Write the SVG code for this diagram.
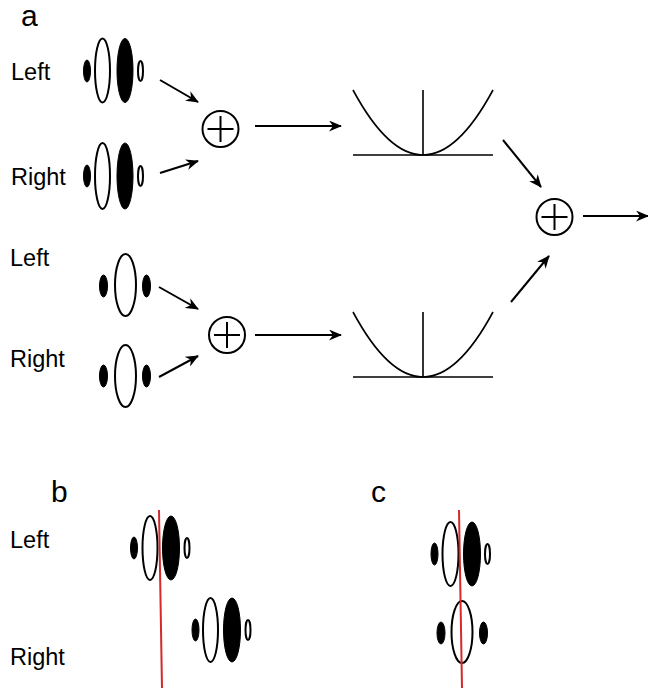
<svg xmlns="http://www.w3.org/2000/svg" width="648" height="688" viewBox="0 0 648 688">
<defs>
<marker id="ah" viewBox="0 0 13 11" refX="12" refY="5.5" markerWidth="13" markerHeight="11" markerUnits="userSpaceOnUse" orient="auto">
<path d="M0,0 L13,5.5 L0,11 L4,5.5 z" fill="#000"/>
</marker>
</defs>
<style>
text{font-family:"Liberation Sans",Arial,sans-serif;fill:#000}
.lbl{font-size:23.5px}
.pan{font-size:30px}
.o{fill:#fff;stroke:#000;stroke-width:2}
.f{fill:#000;stroke:#000;stroke-width:1}
.c{fill:none;stroke:#000;stroke-width:2}
.ln{fill:none;stroke:#000;stroke-width:2;marker-end:url(#ah)}
.pb{fill:none;stroke:#000;stroke-width:1.6}
.red{stroke:#d42a2a;stroke-width:2}
</style>
<rect width="648" height="688" fill="#fff"/>

<g id="labels">
<text class="pan" x="21" y="26">a</text>
<text class="lbl" x="11" y="80">Left</text>
<text class="lbl" x="11" y="185">Right</text>
<text class="lbl" x="10" y="266">Left</text>
<text class="lbl" x="10" y="367">Right</text>
<text class="pan" x="51" y="502">b</text>
<text class="pan" x="371" y="502">c</text>
<text class="lbl" x="10" y="548">Left</text>
<text class="lbl" x="10" y="665">Right</text>
</g>

<g id="stimA-left">
<ellipse class="f" cx="87" cy="71" rx="3.5" ry="11"/>
<ellipse class="o" cx="102.5" cy="70.5" rx="7.5" ry="32"/>
<ellipse class="f" cx="125" cy="70.5" rx="8" ry="32"/>
<ellipse class="o" cx="140.5" cy="71" rx="2.5" ry="10"/>
</g>
<g id="stimA-right">
<ellipse class="f" cx="87" cy="176" rx="3.5" ry="11"/>
<ellipse class="o" cx="102.5" cy="176" rx="7.5" ry="33"/>
<ellipse class="f" cx="125" cy="176" rx="8" ry="33"/>
<ellipse class="o" cx="140.5" cy="176" rx="2.5" ry="10"/>
</g>
<g id="stimB-left">
<ellipse class="f" cx="103.5" cy="286" rx="4" ry="11"/>
<ellipse class="o" cx="125.5" cy="285" rx="10.5" ry="31"/>
<ellipse class="f" cx="146.5" cy="286" rx="4" ry="11"/>
</g>
<g id="stimB-right">
<ellipse class="f" cx="103.5" cy="376" rx="4" ry="11"/>
<ellipse class="o" cx="125.5" cy="376" rx="10.5" ry="31"/>
<ellipse class="f" cx="146.5" cy="376" rx="4" ry="11"/>
</g>

<g id="sum1">
<circle class="c" cx="220.5" cy="129" r="18"/>
<path class="c" d="M207.5,129 H233.5 M220.5,116 V142"/>
</g>
<g id="sum2">
<circle class="c" cx="227" cy="335" r="18"/>
<path class="c" d="M214,335 H240 M227,322 V348"/>
</g>
<g id="sum3">
<circle class="c" cx="554.5" cy="217" r="18"/>
<path class="c" d="M541.5,217 H567.5 M554.5,204 V230"/>
</g>

<g id="square1">
<path class="pb" d="M353,90 Q423,220 493,90"/>
<path class="pb" d="M423,90 V155 M353,155 H493"/>
</g>
<g id="square2">
<path class="pb" d="M353,312 Q423,442 493,312"/>
<path class="pb" d="M423,312 V377 M353,377 H493"/>
</g>

<g id="connectors">
<line class="ln" x1="160" y1="80" x2="198" y2="102"/>
<line class="ln" x1="160" y1="173" x2="198" y2="161"/>
<line class="ln" x1="159" y1="287" x2="198" y2="309"/>
<line class="ln" x1="159" y1="377" x2="198" y2="356"/>
<line class="ln" x1="255" y1="126" x2="341" y2="126"/>
<line class="ln" x1="255" y1="335" x2="341" y2="335"/>
<line class="ln" x1="503" y1="140" x2="541" y2="187"/>
<line class="ln" x1="511" y1="302" x2="549" y2="256"/>
<line class="ln" x1="583" y1="216" x2="648" y2="216"/>
</g>

<g id="panelB">
<ellipse class="f" cx="134" cy="548" rx="3.5" ry="11"/>
<ellipse class="o" cx="150" cy="548" rx="7.5" ry="32"/>
<ellipse class="f" cx="171" cy="548" rx="8.5" ry="32"/>
<ellipse class="o" cx="187" cy="548" rx="2.5" ry="10"/>
<ellipse class="f" cx="195.5" cy="630" rx="3.5" ry="11"/>
<ellipse class="o" cx="210.5" cy="630" rx="7.5" ry="32"/>
<ellipse class="f" cx="232" cy="630" rx="8.5" ry="32"/>
<ellipse class="o" cx="248" cy="630" rx="2.5" ry="10"/>
<line class="red" x1="159" y1="510" x2="162" y2="688"/>
</g>

<g id="panelC">
<ellipse class="f" cx="434.5" cy="554" rx="3.5" ry="11"/>
<ellipse class="o" cx="450.5" cy="554" rx="8" ry="32"/>
<ellipse class="f" cx="472" cy="554" rx="8.5" ry="32"/>
<ellipse class="o" cx="487.5" cy="554" rx="2.5" ry="10"/>
<ellipse class="f" cx="441" cy="633" rx="4" ry="11"/>
<ellipse class="o" cx="462" cy="632" rx="10.5" ry="31"/>
<ellipse class="f" cx="483.5" cy="633" rx="4" ry="11"/>
<line class="red" x1="459" y1="510" x2="462" y2="688"/>
</g>
</svg>
